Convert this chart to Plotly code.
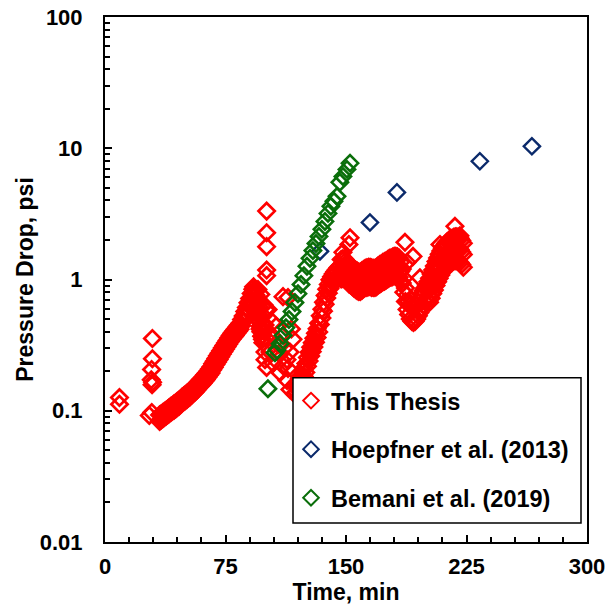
import plotly.graph_objects as go

# ---------------- data ----------------
# "This Thesis": isolated early readings
early_t = [9.0, 9.0, 29.5, 29.5, 29.0, 28.8, 29.3, 29.6, 27.6, 29.1]
early_dp = [0.126, 0.112, 0.355, 0.249, 0.206, 0.172, 0.158, 0.165, 0.092, 0.097]

# first build-up (34-92 min), lower and upper edge of the band
rise1_t = list(range(34, 93))
rise1_lo = [0.083, 0.085, 0.087, 0.089, 0.091, 0.093, 0.095, 0.097, 0.099, 0.101,
            0.103, 0.106, 0.108, 0.111, 0.114, 0.117, 0.119, 0.122, 0.125, 0.128,
            0.132, 0.136, 0.139, 0.143, 0.148, 0.153, 0.157, 0.162, 0.168, 0.173,
            0.180, 0.187, 0.194, 0.205, 0.214, 0.225, 0.235, 0.246, 0.258, 0.270,
            0.282, 0.295, 0.308, 0.322, 0.336, 0.351, 0.362, 0.374, 0.389, 0.403,
            0.417, 0.445, 0.474, 0.512, 0.550, 0.597, 0.645, 0.701, 0.758]
rise1_hi = [0.093, 0.095, 0.097, 0.099, 0.101, 0.103, 0.106, 0.108, 0.110, 0.113,
            0.115, 0.118, 0.120, 0.123, 0.127, 0.130, 0.133, 0.136, 0.139, 0.142,
            0.147, 0.151, 0.155, 0.159, 0.165, 0.170, 0.175, 0.180, 0.187, 0.193,
            0.200, 0.208, 0.216, 0.228, 0.238, 0.250, 0.262, 0.274, 0.287, 0.301,
            0.314, 0.328, 0.343, 0.359, 0.375, 0.390, 0.403, 0.417, 0.433, 0.448,
            0.464, 0.496, 0.528, 0.570, 0.612, 0.665, 0.717, 0.781, 0.844]

# scatter after the first peak and before the second build-up (92-118 min)
mid_t = [92.5, 93.0, 93.5, 94.0, 94.5, 95.0, 95.5, 96.0, 96.5, 97.0, 97.5, 98.0,
         93.0, 94.0, 95.0, 96.0, 97.0, 98.0, 99.0, 100.0,
         93.3, 94.6, 95.2, 96.5, 97.7, 98.3, 95.2, 97.0, 99.0, 97.7, 99.6,
         93.5, 94.0, 96.0, 100.0, 99.6, 100.6, 99.6,
         100.6, 100.6, 100.6, 100.6, 100.6,
         102.7, 104.5, 104.5, 104.5, 101.5, 110.8, 113.9, 110.8, 113.9, 115.1,
         117.0, 113.3, 108.9, 113.3, 115.1, 107.7, 108.9, 106.5, 111.5, 116.0]
mid_dp = [0.88, 0.82, 0.76, 0.70, 0.64, 0.58, 0.53, 0.48, 0.44, 0.40, 0.37, 0.35,
          0.60, 0.55, 0.72, 0.62, 0.52, 0.45, 0.40, 0.36,
          0.70, 0.59, 0.50, 0.42, 0.37, 0.33, 0.84, 0.77, 0.64, 0.54, 0.45,
          0.82, 0.76, 0.66, 0.59, 0.28, 0.214, 0.245,
          3.32, 2.27, 1.78, 1.18, 1.07,
          0.28, 0.23, 0.37, 0.47, 0.59, 0.74, 0.73, 0.22, 0.21, 0.28,
          0.35, 0.245, 0.195, 0.17, 0.145, 0.32, 0.27, 0.44, 0.30, 0.42]

# second build-up (118-146 min)
rise2_t = list(range(118, 147))
rise2_lo = [0.134, 0.139, 0.144, 0.151, 0.159, 0.171, 0.182, 0.196, 0.218, 0.239,
            0.261, 0.282, 0.306, 0.333, 0.361, 0.398, 0.454, 0.509, 0.574, 0.648,
            0.722, 0.787, 0.852, 0.898, 0.944, 0.981, 1.019, 1.056, 1.083]
rise2_hi = [0.157, 0.162, 0.167, 0.176, 0.186, 0.200, 0.213, 0.229, 0.254, 0.279,
            0.305, 0.329, 0.356, 0.389, 0.421, 0.464, 0.529, 0.594, 0.670, 0.756,
            0.842, 0.918, 0.994, 1.048, 1.102, 1.145, 1.188, 1.231, 1.264]

# plateau (147-184 min): lower edge, middle, upper edge
plat_t = list(range(147, 185))
plat_lo = [1.01, 1.02, 1.02, 0.99, 0.96, 0.92, 0.91, 0.88, 0.86, 0.84,
           0.82, 0.81, 0.81, 0.83, 0.85, 0.87, 0.87, 0.88, 0.88, 0.87,
           0.87, 0.87, 0.88, 0.91, 0.92, 0.94, 0.96, 0.97, 0.99, 1.01,
           1.03, 1.04, 1.05, 1.07, 1.07, 1.06, 1.04, 0.97]
plat_mid = [1.20, 1.22, 1.22, 1.18, 1.14, 1.10, 1.08, 1.05, 1.02, 1.00,
            0.98, 0.97, 0.97, 0.99, 1.01, 1.03, 1.04, 1.05, 1.05, 1.04,
            1.03, 1.03, 1.05, 1.08, 1.10, 1.12, 1.14, 1.16, 1.18, 1.20,
            1.23, 1.24, 1.25, 1.27, 1.27, 1.26, 1.24, 1.15]
plat_hi = [1.42, 1.44, 1.44, 1.39, 1.35, 1.30, 1.27, 1.24, 1.20, 1.18,
           1.16, 1.14, 1.14, 1.17, 1.19, 1.22, 1.23, 1.24, 1.24, 1.23,
           1.22, 1.22, 1.24, 1.27, 1.30, 1.32, 1.35, 1.37, 1.39, 1.42,
           1.45, 1.46, 1.48, 1.50, 1.50, 1.49, 1.46, 1.36]

# dip (185-201 min)
dip_t = list(range(185, 202))
dip_lo = [0.94, 0.80, 0.68, 0.59, 0.54, 0.50, 0.48, 0.47, 0.48, 0.50,
          0.53, 0.56, 0.60, 0.64, 0.68, 0.71, 0.75]
dip_hi = [1.20, 1.02, 0.86, 0.76, 0.68, 0.64, 0.61, 0.60, 0.61, 0.64,
          0.67, 0.72, 0.77, 0.82, 0.86, 0.91, 0.96]

# last build-up (202-223 min)
rise3_t = list(range(202, 224))
rise3_lo = [0.67, 0.72, 0.78, 0.83, 0.90, 0.96, 1.02, 1.08, 1.14, 1.18, 1.23,
            1.27, 1.30, 1.33, 1.35, 1.38, 1.39, 1.39, 1.38, 1.35, 1.30, 1.24]
rise3_mid = [0.84, 0.90, 0.97, 1.04, 1.12, 1.20, 1.28, 1.35, 1.42, 1.48, 1.54,
             1.59, 1.63, 1.66, 1.69, 1.72, 1.74, 1.74, 1.72, 1.69, 1.62, 1.55]
rise3_hi = [1.02, 1.10, 1.18, 1.27, 1.37, 1.46, 1.56, 1.65, 1.73, 1.81, 1.88,
            1.94, 1.99, 2.03, 2.06, 2.10, 2.12, 2.12, 2.10, 2.06, 1.98, 1.89]

# scattered spikes on the upper side
spike_t = [152.5, 151.8, 148.1, 186.7, 188.0, 191.7, 196.0, 217.8, 220.9, 208.5]
spike_dp = [2.08, 1.85, 1.61, 1.92, 1.35, 1.50, 1.03, 2.54, 2.15, 1.85]

thesis_t = (early_t + rise1_t + rise1_t + mid_t + rise2_t + rise2_t
            + plat_t + plat_t + plat_t + dip_t + dip_t
            + rise3_t + rise3_t + rise3_t + spike_t)
thesis_dp = (early_dp + rise1_lo + rise1_hi + mid_dp + rise2_lo + rise2_hi
             + plat_lo + plat_mid + plat_hi + dip_lo + dip_hi
             + rise3_lo + rise3_mid + rise3_hi + spike_dp)

hoepfner_t = [133.8, 164.9, 181.7, 233.3, 265.7]
hoepfner_dp = [1.64, 2.72, 4.61, 7.96, 10.35]

bemani_t = [101.4, 105.8, 107.0, 109.0, 110.8, 112.6, 114.5, 116.4, 118.2, 120.1,
            122.0, 123.8, 125.7, 127.6, 129.4, 131.3, 133.2, 135.0, 136.9, 138.8,
            140.6, 142.5, 144.4, 146.2, 148.1, 150.6, 152.5]
bemani_dp = [0.147, 0.277, 0.29, 0.324, 0.374, 0.43, 0.496, 0.57, 0.667, 0.78,
             0.916, 1.07, 1.26, 1.45, 1.66, 1.88, 2.13, 2.41, 2.77, 3.19,
             3.61, 3.94, 4.3, 5.5, 6.1, 6.9, 7.7]

series_names = ["This Thesis", "Hoepfner et al. (2013)", "Bemani et al. (2019)"]
series_colors = ["#FF0000", "#0B2A6B", "#0A6E0A"]

x_tickvals = [0, 75, 150, 225, 300]
y_tickvals = [0.01, 0.1, 1, 10, 100]
y_ticktext = ["0.01", "0.1", "1", "10", "100"]
y_minor = [m * 10.0 ** e for e in range(-2, 2) for m in range(2, 10)]

FONT = "Liberation Sans, Arial, sans-serif"

fig = go.Figure()
for name, color, xs, ys, lw in [
    (series_names[0], series_colors[0], thesis_t, thesis_dp, 2.7),
    (series_names[1], series_colors[1], hoepfner_t, hoepfner_dp, 2.4),
    (series_names[2], series_colors[2], bemani_t, bemani_dp, 2.6),
]:
    fig.add_trace(go.Scatter(
        x=xs, y=ys, mode="markers", name=name, legendgroup=name,
        marker=dict(symbol="diamond-open", size=12.5, color=color,
                    line=dict(color=color, width=lw)),
    ))

axis_common = dict(
    showgrid=False, zeroline=False, showline=True, linecolor="black",
    linewidth=2, mirror=True, ticks="inside", ticklen=7, tickwidth=2,
    tickcolor="black", automargin=False,
    tickfont=dict(family=FONT, size=22, color="black", weight="bold"),
)

fig.update_xaxes(
    **axis_common, range=[0, 300], tickvals=x_tickvals, ticklabelstandoff=4,
    minor=dict(ticks="inside", dtick=15, ticklen=5, tickwidth=1.5, tickcolor="black"),
    title=dict(text="Time, min", standoff=0,
               font=dict(family=FONT, size=23, color="black", weight="bold")),
)
fig.update_yaxes(
    **axis_common, type="log", range=[-2, 2], tickvals=y_tickvals,
    ticktext=y_ticktext, ticklabelstandoff=16,
    minor=dict(ticks="inside", tickvals=y_minor, ticklen=5, tickwidth=1.5,
               tickcolor="black"),
    title=dict(text="Pressure Drop, psi", standoff=0,
               font=dict(family=FONT, size=23, color="black", weight="bold")),
)

# legend frame (paper coordinates of the reference frame)
fig.add_shape(type="rect", xref="paper", yref="paper",
              x0=(293 - 105) / 482, x1=(581 - 105) / 482,
              y0=(542 - 523) / 524.5, y1=(542 - 378) / 524.5,
              line=dict(color="black", width=1.5), fillcolor="white",
              layer="above")

fig.update_layout(
    width=608, height=609,
    margin=dict(l=105, r=21, t=17, b=67),
    plot_bgcolor="white", paper_bgcolor="white",
    font=dict(family=FONT, size=22, color="black", weight="bold"),
    showlegend=True,
    legend=dict(
        x=(291 - 105) / 482, y=(542 - 379) / 524.5, xanchor="left", yanchor="top",
        bgcolor="rgba(0,0,0,0)", borderwidth=0, itemsizing="constant",
        traceorder="grouped", tracegroupgap=15,
        font=dict(family=FONT, size=23.5, color="black", weight="bold"),
    ),
)

fig.write_html("out.html", config={"displayModeBar": False})
